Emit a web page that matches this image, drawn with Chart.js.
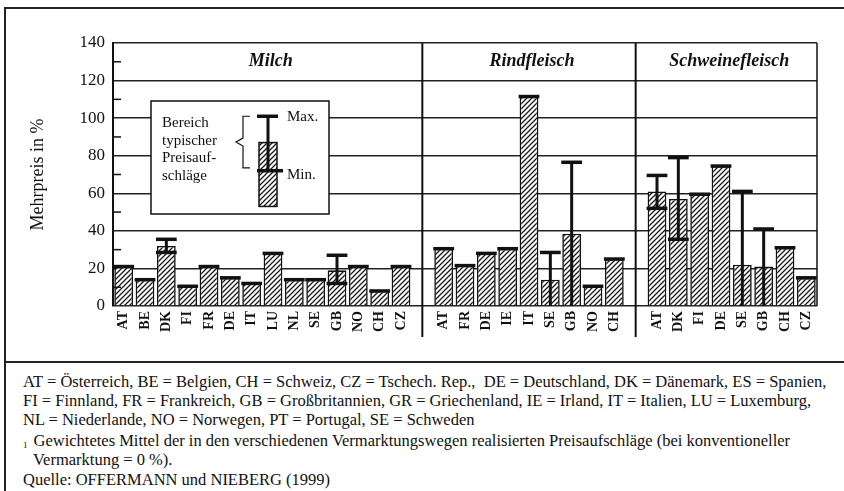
<!DOCTYPE html>
<html lang="de">
<head>
<meta charset="utf-8">
<title>Mehrpreis in %</title>
<script src="https://cdn.jsdelivr.net/npm/chart.js@4.4.0/dist/chart.umd.min.js"></script>
<style>
  body { margin: 0; background: #fff; }
  #page { position: relative; width: 844px; height: 491px; overflow: hidden;
          font-family: 'Liberation Serif', 'Times New Roman', serif; color: #111; }
  #frame { position: absolute; left: 4px; top: 7px; width: 860px; height: 500px;
           border-top: 2px solid #222; border-left: 2px solid #222; }
  #sep { position: absolute; left: 5px; top: 361px; width: 850px; border-top: 2px solid #222; }
  #chartBox { position: absolute; left: 0; top: 0; width: 844px; height: 362px; }
  .note { position: absolute; left: 23px; font-size: 16.5px; line-height: 19px; white-space: pre; }
  .note sup { font-size: 9px; vertical-align: -2px; margin-right: 6px; }
</style>
</head>
<body>
<div id="page">
  <div id="frame"></div>
  <div id="sep"></div>
  <div id="chartBox"><canvas id="chart"></canvas></div>
  <div class="note" style="top:372px">AT = Österreich, BE = Belgien, CH = Schweiz, CZ = Tschech. Rep.,  DE = Deutschland, DK = Dänemark, ES = Spanien,</div>
  <div class="note" style="top:391px">FI = Finnland, FR = Frankreich, GB = Großbritannien, GR = Griechenland, IE = Irland, IT = Italien, LU = Luxemburg,</div>
  <div class="note" style="top:410px">NL = Niederlande, NO = Norwegen, PT = Portugal, SE = Schweden</div>
  <div class="note" style="top:431px"><sup>1</sup>Gewichtetes Mittel der in den verschiedenen Vermarktungswegen realisierten Preisaufschläge (bei konventioneller</div>
  <div class="note" style="top:450px; left:33px">Vermarktung = 0 %).</div>
  <div class="note" style="top:470px">Quelle: OFFERMANN und NIEBERG (1999)</div>
</div>
<script>
// Milch
const milchLabels = ['AT', 'BE', 'DK', 'FI', 'FR', 'DE', 'IT', 'LU', 'NL', 'SE', 'GB', 'NO', 'CH', 'CZ'];
const milchValues = [21, 14, 32, 10.5, 21, 15, 12, 28, 14, 14, 19, 21, 8, 21];
const milchMin = [null, null, 28.5, null, null, null, null, null, null, null, 12, null, null, null];
const milchMax = [null, null, 35.5, null, null, null, null, null, null, null, 27, null, null, null];

// Rindfleisch
const rindLabels = ['AT', 'FR', 'DE', 'IE', 'IT', 'SE', 'GB', 'NO', 'CH'];
const rindValues = [30.5, 21.5, 28, 30.5, 111.5, 14, 38.5, 10.5, 25];
const rindMin = [null, null, null, null, null, 0, 0, null, null];
const rindMax = [null, null, null, null, null, 28.5, 76.5, null, null];

// Schweinefleisch
const schweinLabels = ['AT', 'DK', 'FI', 'DE', 'SE', 'GB', 'CH', 'CZ'];
const schweinValues = [61, 57, 59.5, 74.5, 22, 21, 31, 15];
const schweinMin = [52, 35.5, null, null, 0, 0, null, null];
const schweinMax = [69.5, 79, null, null, 61, 41, null, null];

const panelTitles = ['Milch', 'Rindfleisch', 'Schweinefleisch'];
const yTickValues = [0, 20, 40, 60, 80, 100, 120, 140];
const legendLines = ['Bereich', 'typischer', 'Preisauf-', 'schläge'];

// one empty category between the panels
const labels = [...milchLabels, '', ...rindLabels, '', ...schweinLabels];
const values = [...milchValues, null, ...rindValues, null, ...schweinValues];
const mins = [...milchMin, null, ...rindMin, null, ...schweinMin];
const maxs = [...milchMax, null, ...rindMax, null, ...schweinMax];
const gapIndex = [milchLabels.length, milchLabels.length + 1 + rindLabels.length];

const SERIF = "'Liberation Serif', 'Times New Roman', serif";
const INK = '#111';
Chart.defaults.font.family = SERIF;
Chart.defaults.color = INK;

const canvas = document.getElementById('chart');
const ctx0 = canvas.getContext('2d');

function makeHatch() {
    const c = document.createElement('canvas');
    c.width = 5; c.height = 5;
    const g = c.getContext('2d');
    g.fillStyle = '#fff';
    g.fillRect(0, 0, 5, 5);
    g.strokeStyle = '#1a1a1a';
    g.lineWidth = 1.3;
    g.beginPath();
    g.moveTo(0, 5); g.lineTo(5, 0);
    g.moveTo(-1, 1); g.lineTo(1, -1);
    g.moveTo(4, 6); g.lineTo(6, 4);
    g.stroke();
    return ctx0.createPattern(c, 'repeat');
}
const hatch = makeHatch();

function hline(ctx, x1, x2, y, w) {
    ctx.lineWidth = w;
    ctx.beginPath(); ctx.moveTo(x1, y); ctx.lineTo(x2, y); ctx.stroke();
}
function vline(ctx, x, y1, y2, w) {
    ctx.lineWidth = w;
    ctx.beginPath(); ctx.moveTo(x, y1); ctx.lineTo(x, y2); ctx.stroke();
}

const decorations = {
    id: 'decorations',
    afterDatasetsDraw(chart) {
        const ctx = chart.ctx;
        const y = chart.scales.y;
        const area = chart.chartArea;
        const meta = chart.getDatasetMeta(0);
        ctx.save();
        ctx.strokeStyle = INK;

        // caps and ranges
        meta.data.forEach((el, i) => {
            if (values[i] == null) return;
            const half = el.width / 2 + 1;
            if (mins[i] != null) {
                const yMin = y.getPixelForValue(mins[i]);
                const yMax = y.getPixelForValue(maxs[i]);
                vline(ctx, el.x, yMin, yMax, 3);
                hline(ctx, el.x - half, el.x + half, yMax, 3.5);
                if (mins[i] > 0) hline(ctx, el.x - half, el.x + half, yMin, 3.5);
            } else {
                hline(ctx, el.x - half, el.x + half, y.getPixelForValue(values[i]), 3.5);
            }
        });

        // key box in the Milch panel
        const bx = area.left + 38, by = area.top + 58, bw = 178, bh = 113;
        ctx.fillStyle = '#fff';
        ctx.fillRect(bx, by, bw, bh);
        ctx.lineWidth = 1.5;
        ctx.strokeRect(bx, by, bw, bh);

        ctx.fillStyle = INK;
        ctx.font = '15px ' + SERIF;
        ctx.textBaseline = 'middle';
        ctx.textAlign = 'left';
        legendLines.forEach((t, k) => ctx.fillText(t, bx + 11, by + 22 + k * 17.7));

        const sx = area.left + 155;
        const sTop = y.getPixelForValue(87), sBot = y.getPixelForValue(53);
        ctx.fillStyle = hatch;
        ctx.fillRect(sx - 9, sTop, 18, sBot - sTop);
        ctx.lineWidth = 1.5;
        ctx.strokeRect(sx - 9, sTop, 18, sBot - sTop);
        const yMx = y.getPixelForValue(101), yMn = y.getPixelForValue(72);
        vline(ctx, sx, yMx, yMn, 3);
        hline(ctx, sx - 11, sx + 10, yMx, 3.5);
        hline(ctx, sx - 11, sx + 15, yMn, 3.5);
        ctx.fillStyle = INK;
        ctx.fillText('Max.', sx + 19, yMx + 1);
        ctx.fillText('Min.', sx + 19, yMn + 4);

        // brace
        const rx = sx - 18, tipX = sx - 32;
        const bTop = yMx, bBot = y.getPixelForValue(73.5), mid = (bTop + bBot) / 2;
        ctx.lineWidth = 1.2;
        ctx.beginPath();
        ctx.moveTo(rx, bTop);
        ctx.lineTo(rx - 7, bTop);
        ctx.lineTo(rx - 7, mid - 4);
        ctx.lineTo(tipX, mid);
        ctx.lineTo(rx - 7, mid + 4);
        ctx.lineTo(rx - 7, bBot);
        ctx.lineTo(rx, bBot);
        ctx.stroke();
        ctx.restore();
    },
    afterDraw(chart) {
        const ctx = chart.ctx;
        const x = chart.scales.x;
        const y = chart.scales.y;
        const area = chart.chartArea;
        ctx.save();
        ctx.strokeStyle = INK;

        // right border
        vline(ctx, area.right, area.top, area.bottom, 1.5);

        // panel dividers
        const divs = gapIndex.map(i => x.getPixelForValue(i));
        divs.forEach(d => vline(ctx, d, area.top, area.bottom + 31, 2));

        // minor ticks inside the axis
        for (let v = 10; v < 140; v += 20) {
            hline(ctx, area.left, area.left + 8, y.getPixelForValue(v), 1.5);
        }

        // panel titles
        const edges = [area.left, ...divs, area.right];
        ctx.fillStyle = INK;
        ctx.font = 'italic bold 18px ' + SERIF;
        ctx.textAlign = 'center';
        ctx.textBaseline = 'middle';
        panelTitles.forEach((t, k) => {
            ctx.fillText(t, (edges[k] + edges[k + 1]) / 2 + 3, y.getPixelForValue(130));
        });
        ctx.restore();
    }
};

new Chart(canvas, {
    type: 'bar',
    data: {
        labels: labels,
        datasets: [{
            data: values,
            backgroundColor: hatch,
            borderColor: INK,
            borderWidth: 1.6,
            barPercentage: 0.88,
            categoryPercentage: 1
        }]
    },
    options: {
        responsive: true,
        maintainAspectRatio: false,
        animation: false,
        layout: { padding: { top: 43, right: 27, left: 0, bottom: 0 } },
        plugins: { legend: { display: false }, tooltip: { enabled: false } },
        scales: {
            x: {
                grid: { display: false, drawTicks: false },
                border: { display: false },
                ticks: {
                    autoSkip: false, minRotation: 90, maxRotation: 90, padding: 5,
                    font: { size: 14, weight: 'bold' }, color: INK
                },
                afterFit: s => { s.height = 56; }
            },
            y: {
                min: 0, max: 140,
                afterBuildTicks: s => { s.ticks = yTickValues.map(v => ({ value: v })); },
                ticks: { font: { size: 17 }, color: INK, padding: 8 },
                grid: { color: '#222', lineWidth: 1.5, drawTicks: false },
                border: { color: INK, width: 2 },
                title: {
                    display: true, text: 'Mehrpreis in %', color: INK,
                    font: { size: 18 }, padding: { top: 27 }
                },
                afterFit: s => { s.width = 113; }
            }
        }
    },
    plugins: [decorations]
});
</script>
</body>
</html>
